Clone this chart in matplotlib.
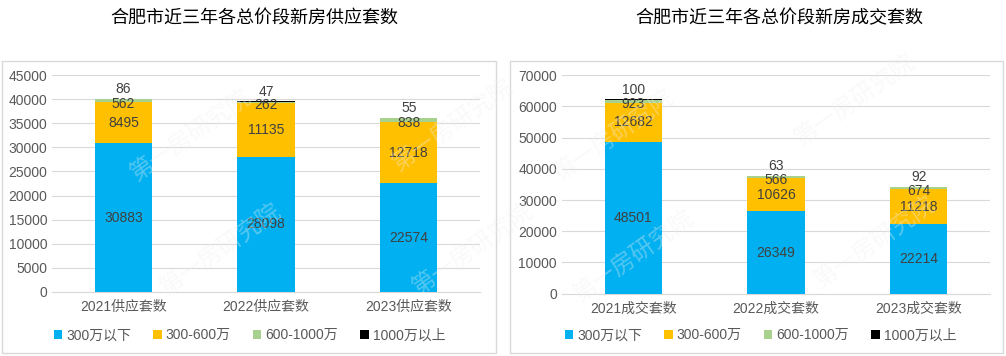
import matplotlib
matplotlib.use("Agg")
import matplotlib.pyplot as plt
import numpy as np
from matplotlib.patches import Rectangle

plt.rcParams["font.family"] = ["Liberation Sans", "Noto Sans CJK SC"]

segments = ["300万以下", "300-600万", "600-1000万", "1000万以上"]
colors = ["#00B0F0", "#FFC000", "#A9D18E", "#000000"]

supply_cats = ["2021供应套数", "2022供应套数", "2023供应套数"]
supply_vals = [
    [30883, 28098, 22574],
    [8495, 11135, 12718],
    [562, 262, 838],
    [86, 47, 55],
]

deal_cats = ["2021成交套数", "2022成交套数", "2023成交套数"]
deal_vals = [
    [48501, 26349, 22214],
    [12682, 10626, 11218],
    [923, 566, 674],
    [100, 63, 92],
]

fig = plt.figure(figsize=(10.06, 3.56), dpi=100)

# panel frames
for x0, w in [(0.002, 0.491), (0.507, 0.490)]:
    fig.patches.append(Rectangle((x0, 0.008), w, 0.822, transform=fig.transFigure,
                                 fill=False, edgecolor="#D9D9D9", lw=1.0))


def draw(ax, cats, vals, ymax, step, title, title_x, legend_x):
    x = np.arange(len(cats))
    bottom = np.zeros(len(cats))
    for k, (name, col) in enumerate(zip(segments, colors)):
        v = np.array(vals[k], dtype=float)
        ax.bar(x, v, 0.4, bottom=bottom, color=col, label=name, zorder=3)
        for i in range(len(cats)):
            if k == 3:
                ax.annotate(f"{int(v[i])}", (x[i], bottom[i] + v[i]), xytext=(0, 2),
                            textcoords="offset points", ha="center", va="bottom",
                            fontsize=10, color="#404040", zorder=5)
            elif k == 2:
                ax.annotate(f"{int(v[i])}", (x[i], bottom[i] + v[i] / 2), xytext=(0, -2),
                            textcoords="offset points", ha="center", va="center",
                            fontsize=10, color="#404040", zorder=5)
            else:
                ax.text(x[i], bottom[i] + v[i] / 2, f"{int(v[i])}", ha="center",
                        va="center", fontsize=10, color="#404040", zorder=5)
        bottom += v
    ax.set_xlim(-0.5, len(cats) - 0.5)
    ax.set_ylim(0, ymax)
    ax.set_yticks(np.arange(0, ymax + 1, step))
    ax.set_xticks(x)
    ax.set_xticklabels(cats)
    ax.tick_params(axis="both", length=0, labelsize=10, labelcolor="#595959")
    ax.tick_params(axis="x", pad=6)
    ax.grid(axis="y", color="#D9D9D9", lw=0.8, zorder=0)
    for s in ["top", "right", "left"]:
        ax.spines[s].set_visible(False)
    ax.spines["bottom"].set_color("#D9D9D9")
    fig.text(title_x, 0.95, title, ha="center", va="center", fontsize=13,
             family=["Noto Sans CJK SC"], color="#000000")
    handles, labels = ax.get_legend_handles_labels()
    fig.legend(handles, labels, loc="center", bbox_to_anchor=(legend_x, 0.058),
               ncol=4, frameon=False, fontsize=10, handlelength=0.6, handleheight=0.6,
               handletextpad=0.3, columnspacing=1.6, labelcolor="#595959")


ax1 = fig.add_axes([0.0517, 0.18, 0.4255, 0.609])
draw(ax1, supply_cats, supply_vals, 45000, 5000, "合肥市近三年各总价段新房供应套数", 0.253, 0.248)

ax2 = fig.add_axes([0.5586, 0.175, 0.4255, 0.614])
draw(ax2, deal_cats, deal_vals, 70000, 10000, "合肥市近三年各总价段新房成交套数", 0.775, 0.756)

# faint watermarks
for (wx, wy) in [(0.19, 0.62), (0.22, 0.3), (0.45, 0.65), (0.47, 0.3),
                 (0.61, 0.62), (0.63, 0.28), (0.85, 0.72), (0.87, 0.32)]:
    fig.text(wx, wy, "第一房研究院", rotation=35, ha="center", va="center", fontsize=17,
             family=["Noto Sans CJK SC"], color="#F0F0F0", alpha=0.35, zorder=10)

fig.savefig("out.png", dpi=100)
